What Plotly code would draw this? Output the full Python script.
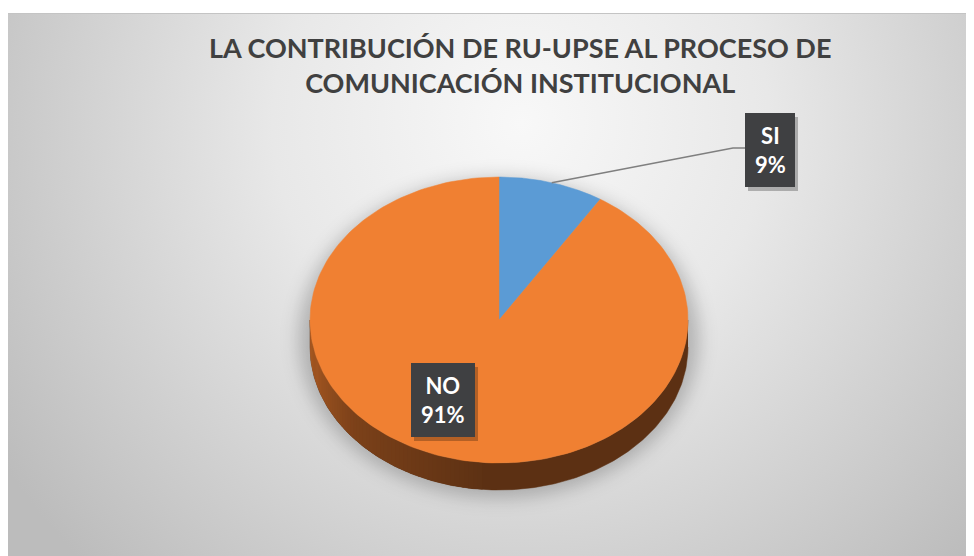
import base64
import numpy as np
import plotly.graph_objects as go

# ---- data ----
categories = ["SI", "NO"]
values = [9, 91]
title_lines = ["LA CONTRIBUCIÓN DE RU-UPSE AL PROCESO DE", "COMUNICACIÓN INSTITUCIONAL"]
slice_colors = ["#5B9BD5", "#F08032"]

W, H = 974, 556
OFF = 8  # page body margin compensation
CX, CY, RX, RY, DEPTH = 499, 320, 189, 143, 27

def ell(theta_deg, dy=0.0):
    t = np.radians(theta_deg)
    return CX + RX * np.sin(t), CY + dy - RY * np.cos(t)

fig = go.Figure()

# background panel with radial gradient
svg = '''<svg xmlns="http://www.w3.org/2000/svg" width="990" height="560" viewBox="0 0 990 560">
<defs><radialGradient id="g" gradientUnits="userSpaceOnUse" cx="515" cy="110" r="620">
<stop offset="0" stop-color="#f8f8f8"/><stop offset="0.4" stop-color="#e8e8e8"/>
<stop offset="1" stop-color="#bcbcbc"/></radialGradient>
<filter id="b" x="-20%" y="-20%" width="140%" height="140%"><feGaussianBlur stdDeviation="9"/></filter></defs>
<rect x="0" y="0" width="990" height="560" fill="url(#g)"/>
<ellipse cx="493" cy="325" rx="200" ry="160" fill="#000" fill-opacity="0.22" filter="url(#b)"/>
<rect x="0.5" y="0.5" width="1000" height="600" fill="none" stroke="#c4c4c4" stroke-width="1"/>
</svg>'''
src = "data:image/svg+xml;base64," + base64.b64encode(svg.encode()).decode()
images = [dict(source=src, xref="x", yref="y", x=6, y=13, sizex=990, sizey=560,
               sizing="stretch", xanchor="left", yanchor="top", layer="below")]

shapes = []

# side (visible front half) of the pie, with shading
def side_color(theta):
    stops = [(90, (90, 47, 19)), (185, (94, 50, 20)), (230, (125, 66, 26)), (270, (182, 96, 37))]
    for (a0, c0), (a1, c1) in zip(stops[:-1], stops[1:]):
        if a0 <= theta <= a1:
            f = (theta - a0) / (a1 - a0)
            return "rgb(%d,%d,%d)" % tuple(int(c0[i] + f * (c1[i] - c0[i])) for i in range(3))
    return "rgb(90,47,19)"

# base side in dark colour, then shaded strips on top
tt = np.linspace(90, 270, 200)
xt, yt = ell(tt)
xb, yb = ell(tt[::-1], DEPTH)
fig.add_trace(go.Scatter(x=np.concatenate([xt, xb]), y=np.concatenate([yt, yb]),
                         fill="toself", fillcolor="rgb(92,48,19)", mode="lines",
                         line=dict(color="rgb(92,48,19)", width=0.5), hoverinfo="skip", showlegend=False))
n = 60
angs = np.linspace(185, 270, n + 1)
for a0, a1 in zip(angs[:-1], angs[1:]):
    t2 = np.linspace(a0, min(a1 + 0.6, 270), 4)
    xt, yt = ell(t2)
    xb, yb = ell(t2[::-1], DEPTH)
    col = side_color((a0 + a1) / 2)
    fig.add_trace(go.Scatter(x=np.concatenate([xt, xb]), y=np.concatenate([yt, yb]),
                             fill="toself", fillcolor=col, mode="none",
                             hoverinfo="skip", showlegend=False))

# top faces of slices
total = sum(values)
start = 0.0
mids = []
for cat, v, col in zip(categories, values, slice_colors):
    span = 360.0 * v / total
    tt = np.linspace(start, start + span, 200)
    xs, ys = ell(tt)
    fig.add_trace(go.Scatter(x=np.concatenate([[CX], xs, [CX]]), y=np.concatenate([[CY], ys, [CY]]),
                             fill="toself", fillcolor=col, mode="lines",
                             line=dict(color=col, width=0.5), name=cat, showlegend=False))
    mids.append(start + span / 2)
    start += span

# leader line for SI
sx, sy = ell(mids[0])
shapes.append(dict(type="path", xref="x", yref="y",
                   path=f"M {sx:.1f},{sy:.1f} L 733,148 L 745,148",
                   line=dict(color="#7f7f7f", width=1.5)))

# label boxes
label_pos = [(770, 150, 50, 74), (443, 400, 64, 74)]
annotations = []
for cat, v, (lx, ly, bw, bh) in zip(categories, values, label_pos):
    shapes.append(dict(type="rect", xref="x", yref="y",
                       x0=lx - bw / 2 + 3, x1=lx + bw / 2 + 3, y0=ly - bh / 2 + 4, y1=ly + bh / 2 + 4,
                       fillcolor="rgba(0,0,0,0.25)", line=dict(width=0)))
    shapes.append(dict(type="rect", xref="x", yref="y",
                       x0=lx - bw / 2, x1=lx + bw / 2, y0=ly - bh / 2, y1=ly + bh / 2,
                       fillcolor="#3f4042", line=dict(width=0)))
    pct = round(100 * v / total)
    annotations.append(dict(x=lx, y=ly, xref="x", yref="y", showarrow=False,
                            text=f"<b>{cat}<br>{pct}%</b>",
                            font=dict(family="Lato, Open Sans, sans-serif", size=22, color="white")))

# title
annotations.append(dict(x=520, y=65, xref="x", yref="y", showarrow=False,
                        text="<b>" + "<br>".join(title_lines) + "</b>",
                        font=dict(family="Lato, Open Sans, sans-serif", size=27, color="#404040")))

fig.update_layout(
    width=W, height=H, margin=dict(l=0, r=0, t=0, b=0),
    paper_bgcolor="white", plot_bgcolor="rgba(0,0,0,0)",
    xaxis=dict(range=[OFF, W + OFF], visible=False, fixedrange=True),
    yaxis=dict(range=[H + OFF, OFF], visible=False, fixedrange=True),
    shapes=shapes, annotations=annotations, images=images, showlegend=False,
)
fig.write_html("out.html")
